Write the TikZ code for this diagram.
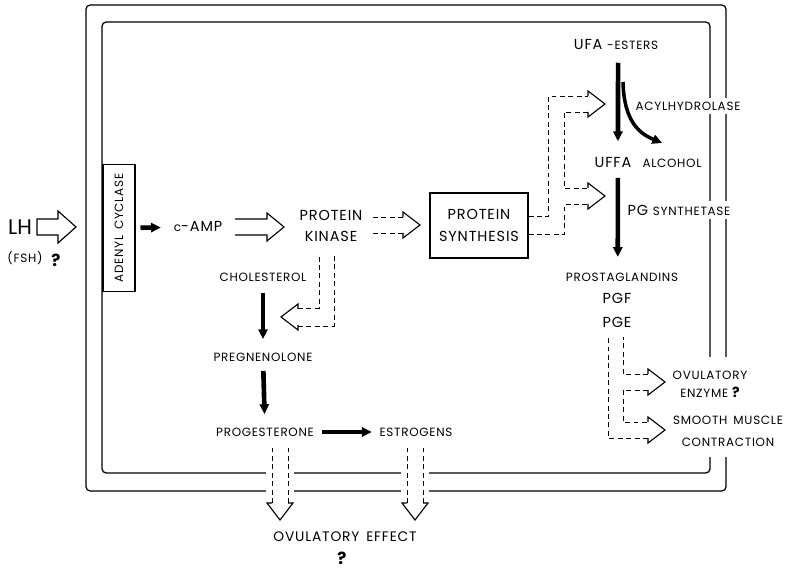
\documentclass[tikz,border=0pt]{standalone}
\usepackage{fontspec}
\setmainfont{Poppins}[LetterSpace=6]
\usetikzlibrary{arrows.meta}
\tikzset{
  bigtext/.style={font=\fontsize{10.3}{15.5}\selectfont,inner sep=1pt,align=center},
  smalltext/.style={font=\fontsize{8.5}{10}\selectfont,inner sep=1pt,align=center},
  onwall/.style={fill=white,inner sep=3pt},
  cellwall/.style={line width=0.9pt,rounded corners=3pt},
  enzbox/.style={draw,line width=0.8pt,fill=white},
  thickflow/.style={line width=3.3pt,-{Triangle[length=7pt,width=6.5pt]}},
  openline/.style={line width=0.8pt,line join=miter},
  dashline/.style={line width=0.7pt,dash pattern=on 3.5pt off 2.5pt},
  openhead/.pic={\draw[openline] (-17,8) -- (-17,13) -- (0,0) -- (-17,-13) -- (-17,-8);}
}
\begin{document}
\begin{tikzpicture}[x=0.025cm,y=-0.025cm]
  \useasboundingbox (0,0) rectangle (790,570);
  % cell walls
  \draw[cellwall] (86,5) rectangle (726,491);
  \draw[cellwall] (102,22) rectangle (710,473);
  \fill[white] (700,357) rectangle (735,457);
  \fill[white] (266,465) rectangle (294,498);
  \fill[white] (401,465) rectangle (429,498);

  % hormone and membrane enzyme
  \node[font=\fontsize{15}{17}\selectfont\addfontfeatures{LetterSpace=0},inner sep=1pt] (lh) at (20,227) {LH};
  \node[smalltext] (fsh) at (25,258) {(FSH)};
  \node[font=\fontsize{12}{14}\selectfont\bfseries,inner sep=1pt] (lhq) at (56,260) {?};
  \node[enzbox,smalltext,rotate=90,minimum width=3.175cm,minimum height=0.8cm] (adc) at (119,228) {ADENYL\enspace CYCLASE};

  % cytoplasm
  \node[bigtext] (camp) at (198,227) {{\fontsize{8.5}{10}\selectfont c}-AMP};
  \node[bigtext] (pk) at (331,226) {PROTEIN\\KINASE};
  \node[enzbox,bigtext,minimum width=2.45cm,minimum height=1.625cm] (ps) at (479,225.5) {PROTEIN\\SYNTHESIS};

  % prostaglandin branch
  \node[bigtext] (ufa) at (616,45) {UFA {\fontsize{8.5}{10}\selectfont -ESTERS}};
  \node[smalltext,onwall] (acyl) at (688,106) {ACYLHYDROLASE};
  \node[bigtext] (uffa) at (613,163) {UFFA};
  \node[smalltext] (alc) at (672,163) {ALCOHOL};
  \node[bigtext,onwall] (pgs) at (679,210) {PG {\fontsize{8.5}{10}\selectfont SYNTHETASE}};
  \node[smalltext] (prost) at (622,277) {PROSTAGLANDINS};
  \node[bigtext] (pgf) at (617,298) {PGF};
  \node[bigtext] (pge) at (617,322) {PGE};
  \node[smalltext,onwall,font=\fontsize{8.5}{12.8}\selectfont] (ovenz) at (710,384)
    {OVULATORY\\ENZYME {\fontsize{10}{12}\selectfont\bfseries ?}};
  \node[smalltext,onwall,font=\fontsize{8.5}{15.6}\selectfont] (smc) at (728,431)
    {SMOOTH\enspace MUSCLE\\CONTRACTION};

  % steroid branch
  \node[smalltext] (chol) at (263,277) {CHOLESTEROL};
  \node[smalltext] (preg) at (263,357) {PREGNENOLONE};
  \node[smalltext] (prog) at (265,432) {PROGESTERONE};
  \node[smalltext] (estr) at (416,432) {ESTROGENS};
  \node[bigtext,font=\fontsize{9.8}{12}\selectfont] (oveff) at (345,537) {OVULATORY\enspace EFFECT};
  \node[font=\fontsize{12}{14}\selectfont\bfseries,inner sep=1pt] (effq) at (342,558) {?};

  % tips of the open arrows
  \coordinate (lhtip) at (76,227);
  \coordinate (camptip) at (284,227);
  \coordinate (pstip) at (420,225);
  \coordinate (ufatip) at (605,104);
  \coordinate (pgtip) at (605,196);
  \coordinate (choltip) at (281,317);
  \coordinate (progtip) at (280,520);
  \coordinate (estrtip) at (415,520);
  \coordinate (enztip) at (665,382);
  \coordinate (smtip) at (665,430);
  \coordinate (acylfrom) at (623,82);

  % solid open arrows
  \draw[openline] (lhtip) -- ++(-18,-16) -- ++(0,8) -- ++(-21,0) -- ++(0,16)
    -- ++(21,0) -- ++(0,8) -- cycle;
  \draw[openline] ([shift={(-49,-8)}]camptip) -- ++(32,0) -- ++(0,-6) -- (camptip)
    -- ++(-17,14) -- ++(0,-6) -- ++(-32,0);

  % dashed open arrows
  \draw[dashline] ([shift={(-17,-8)}]pstip) -- ++(-31,0);
  \draw[dashline] ([shift={(-17,8)}]pstip) -- ++(-31,0);
  \pic at (pstip) {openhead};

  \draw[dashline] (ps.east) ++(0,-9) -- ++(20,0) |- ([shift={(-17,-8)}]ufatip);
  \draw[dashline] (ps.east) ++(0,9) -- ++(36,0) |- ([shift={(-17,8)}]pgtip);
  \draw[dashline] ([shift={(-17,8)}]ufatip) -- ++(-24,0) |- ([shift={(-17,-8)}]pgtip);
  \pic at (ufatip) {openhead};
  \pic at (pgtip) {openhead};

  \draw[dashline] ([shift={(17,-9)}]choltip) -- ++(21,0) -- ++(0,-53);
  \draw[dashline] ([shift={(17,9)}]choltip) -- ++(36,0) -- ++(0,-71);
  \pic[rotate=180] at (choltip) {openhead};

  \draw[dashline] ([shift={(-8,-17)}]progtip) -- ++(0,-55);
  \draw[dashline] ([shift={(8,-17)}]progtip) -- ++(0,-55);
  \pic[rotate=-90] at (progtip) {openhead};
  \draw[dashline] ([shift={(-8,-17)}]estrtip) -- ++(0,-55);
  \draw[dashline] ([shift={(8,-17)}]estrtip) -- ++(0,-55);
  \pic[rotate=-90] at (estrtip) {openhead};

  \draw[dashline] ([shift={(-17,-8)}]enztip) -- ++(-25,0) -- ++(0,-37);
  \draw[dashline] ([shift={(-17,8)}]smtip) -- ++(-40,0) -- ++(0,-101);
  \draw[dashline] ([shift={(-17,8)}]enztip) -- ++(-25,0) |- ([shift={(-17,-8)}]smtip);
  \pic at (enztip) {openhead};
  \pic at (smtip) {openhead};

  % solid reaction arrows
  \draw[thickflow,shorten <=3.5pt,shorten >=8pt] (adc) -- (camp);
  \draw[thickflow] ([xshift=1.5pt,yshift=-7.8pt]ufa.south) -- ([xshift=3.5pt,yshift=10.6pt]uffa.north);
  \draw[thickflow,line width=2.5pt] (acylfrom) .. controls (624,120) and (638,133)
    .. ([xshift=-7pt,yshift=10pt]alc.north);
  \draw[thickflow] ([xshift=3.5pt,yshift=-5.7pt]uffa.south) -- ([xshift=-3pt,yshift=10pt]prost.north);
  \draw[thickflow,shorten <=7pt,shorten >=8.5pt] (chol) -- (preg);
  \draw[thickflow,shorten <=5.7pt,shorten >=8.5pt] (preg) -- (prog);
  \draw[thickflow,shorten <=4.3pt,shorten >=4.3pt] (prog) -- (estr);
\end{tikzpicture}
\end{document}
